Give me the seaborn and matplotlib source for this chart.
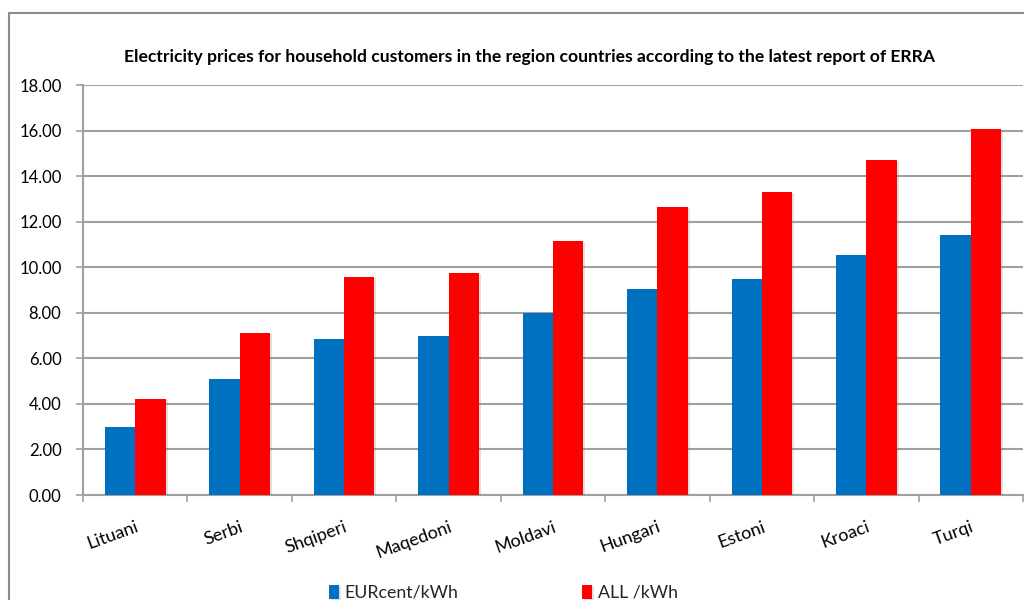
import matplotlib
matplotlib.use("Agg")
import matplotlib.pyplot as plt
import matplotlib.patheffects as pe
from matplotlib.lines import Line2D
import seaborn as sns
import pandas as pd

countries = ["Lituani", "Serbi", "Shqiperi", "Maqedoni", "Moldavi",
             "Hungari", "Estoni", "Kroaci", "Turqi"]
eur_cent = [3.00, 5.10, 6.85, 6.98, 7.98, 9.04, 9.48, 10.54, 11.41]
all_lek = [4.21, 7.11, 9.57, 9.75, 11.15, 12.64, 13.30, 14.71, 16.07]
series_names = ["EURcent/kWh", "ALL /kWh"]
yticks = [0, 2, 4, 6, 8, 10, 12, 14, 16, 18]

df = pd.DataFrame({
    "country": countries * 2,
    "price": eur_cent + all_lek,
    "series": [series_names[0]] * len(countries) + [series_names[1]] * len(countries),
})

sns.set_theme(style="white")
plt.rcParams["font.family"] = ["Lato", "DejaVu Sans"]

W, H = 1024, 600
fig = plt.figure(figsize=(10.24, 6.0), dpi=100)
ax = fig.add_axes([83 / W, 1 - 495 / H, 940 / W, 410 / H])

sns.barplot(data=df, x="country", y="price", hue="series", order=countries,
            hue_order=series_names, palette=["#0070C0", "#FF0000"],
            width=0.58, gap=0, saturation=1, errorbar=None, ax=ax, zorder=3)

for bar in ax.patches:
    bar.set_linewidth(0)
    bar.set_path_effects([pe.SimplePatchShadow(offset=(1.5, -1.0), shadow_rgbFace="#888888", alpha=0.25),
                          pe.Normal()])

grid_col = "#A0A0A0"
ax.set_ylim(0, 18)
ax.set_xlim(-0.5, len(countries) - 0.5)
ax.set_yticks(yticks)
ax.set_yticklabels([f"{v:.2f}" for v in yticks], fontsize=12, color="black")
ax.yaxis.grid(True, color=grid_col, linewidth=1.5, zorder=0)
ax.set_axisbelow(True)
ax.tick_params(axis="y", length=5, width=1.2, color=grid_col, pad=10.5, left=True)

ax.set_xticks(range(len(countries)))
ax.set_xticklabels(countries, fontsize=13, rotation=20, ha="right", va="top",
                   rotation_mode="anchor", color="black")
ax.tick_params(axis="x", which="major", length=0, pad=17)
ax.set_xticks([i - 0.5 for i in range(len(countries) + 1)], minor=True)
ax.tick_params(axis="x", which="minor", length=5, width=1.2, color=grid_col, bottom=True)

ax.set_xlabel("")
ax.set_ylabel("")
for side in ["top", "right"]:
    ax.spines[side].set_visible(False)
for side in ["left", "bottom"]:
    ax.spines[side].set_color(grid_col)
    ax.spines[side].set_linewidth(1.5)

ax.legend_.remove()
handles, labels = ax.get_legend_handles_labels()
fig.legend(handles, labels, loc="center left", bbox_to_anchor=(329 / W, 1 - 593 / H),
           ncol=2, frameon=False, fontsize=12.8, handlelength=0.55, handleheight=0.8,
           handletextpad=0.3, columnspacing=7.0, borderpad=0, borderaxespad=0)

fig.text(530 / W, 1 - 57 / H,
         "Electricity prices for household customers in the region countries according to the latest report of ERRA",
         ha="center", va="center", fontsize=12.6, fontweight="bold", color="black")

# outer chart frame (left and top edges visible)
fig.add_artist(Line2D([9 / W, 9 / W], [0, 1 - 13 / H], transform=fig.transFigure,
                      color="#8C8C8C", linewidth=1.5))
fig.add_artist(Line2D([9 / W, 1], [1 - 13 / H, 1 - 13 / H], transform=fig.transFigure,
                      color="#8C8C8C", linewidth=1.5))

fig.savefig("out.png", dpi=100)
plt.close(fig)
